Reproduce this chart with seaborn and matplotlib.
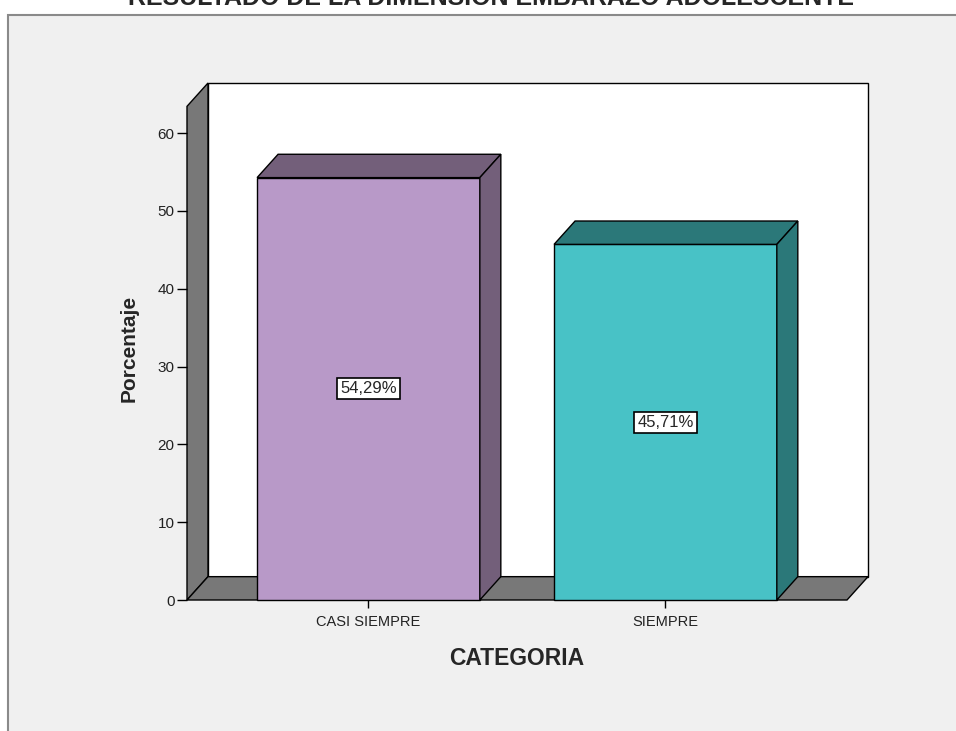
import numpy as np
import matplotlib.pyplot as plt
import seaborn as sns
from matplotlib.patches import Polygon, Rectangle

# Datos del grafico
categorias = ['CASI SIEMPRE', 'SIEMPRE']
porcentajes = [54.29, 45.71]
etiquetas = ['54,29%', '45,71%']
ticks_y = [0, 10, 20, 30, 40, 50, 60]

color_frente = ['#b899c8', '#48c2c6']
color_sombra = ['#735f7a', '#2b7879']
gris_pared = '#787878'

sns.set_style('white')
plt.rcParams['font.family'] = ['Liberation Sans', 'DejaVu Sans']

fig = plt.figure(figsize=(9.56, 7.31), dpi=100)
fig.patch.set_facecolor('white')

# Panel gris de fondo (estilo SPSS)
fig.add_artist(Rectangle((8 / 956, -0.05), 1.05, 1 - 15 / 731 + 0.05,
                         transform=fig.transFigure, facecolor='#f0f0f0',
                         edgecolor='#8a8a8a', lw=1.5, zorder=0))

ax = fig.add_axes([187 / 956, (731 - 600) / 731, 681 / 956, 517 / 731])
ax.set_facecolor('none')

# Barras (cara frontal)
sns.barplot(x=categorias, y=porcentajes, hue=categorias, palette=color_frente,
            width=0.75, edgecolor='black', linewidth=1, saturation=1,
            legend=False, ax=ax)
barras = sorted(ax.patches, key=lambda p: p.get_x())

# Profundidad 3D
dx, dy = 0.0707, 3.0
x_izq, x_der = -0.611, 1.682
y_top = 66.45

# Paredes
ax.add_patch(Rectangle((x_izq + dx, dy), x_der - x_izq - dx, y_top - dy,
                       facecolor='white', edgecolor='black', lw=1, zorder=0.3, clip_on=False))
ax.add_patch(Polygon([(x_izq, 0), (x_izq, y_top - dy), (x_izq + dx, y_top), (x_izq + dx, dy)],
                     closed=True, facecolor=gris_pared, edgecolor='black', lw=1, zorder=0.4,
                     clip_on=False))
ax.add_patch(Polygon([(x_izq, 0), (x_der - dx, 0), (x_der, dy), (x_izq + dx, dy)],
                     closed=True, facecolor=gris_pared, edgecolor='black', lw=1, zorder=0.4,
                     clip_on=False))

for i, bar in enumerate(barras):
    x0 = bar.get_x()
    w = bar.get_width()
    h = bar.get_height()
    x1 = x0 + w
    bar.set_zorder(1)
    bar.set_clip_on(False)
    ax.add_patch(Polygon([(x0, h), (x0 + dx, h + dy), (x1 + dx, h + dy), (x1, h)],
                         closed=True, facecolor=color_sombra[i], edgecolor='black', lw=1, zorder=2))
    ax.add_patch(Polygon([(x1, 0), (x1, h), (x1 + dx, h + dy), (x1 + dx, dy)],
                         closed=True, facecolor=color_sombra[i], edgecolor='black', lw=1, zorder=2,
                         clip_on=False))
    ax.text(x0 + w / 2, h / 2, etiquetas[i], ha='center', va='center', fontsize=12,
            zorder=3, bbox=dict(boxstyle='square,pad=0.18', facecolor='white',
                                edgecolor='black', lw=1.2))

ax.set_xlim(x_izq, x_der)
ax.set_ylim(0, y_top)
ax.set_yticks(ticks_y)
for s in ax.spines.values():
    s.set_visible(False)

ax.tick_params(axis='y', left=True, direction='out', length=7, width=1,
               color='black', labelsize=11, pad=2, labelcolor='#222222')
ax.tick_params(axis='x', bottom=True, direction='out', length=6, width=1,
               color='black', labelsize=10.5, pad=5, labelcolor='#222222')

ax.set_xlabel('CATEGORIA', fontsize=16.5, fontweight='bold')
ax.xaxis.set_label_coords(0.4846, -0.114)
ax.xaxis.label.set_va('center')
ax.set_ylabel('Porcentaje', fontsize=15, fontweight='bold')
ax.yaxis.set_label_coords(-0.0852, 0.4874)
ax.yaxis.label.set_va('center')
ax.yaxis.label.set_ha('center')

# Titulo recortado en el borde superior, como en la imagen original
fig.text(491 / 956, 1 - 5 / 731, 'RESULTADO DE LA DIMENSION EMBARAZO ADOLESCENTE',
         ha='center', va='baseline', fontsize=18, fontweight='bold')

fig.savefig('out.png', dpi=100)
